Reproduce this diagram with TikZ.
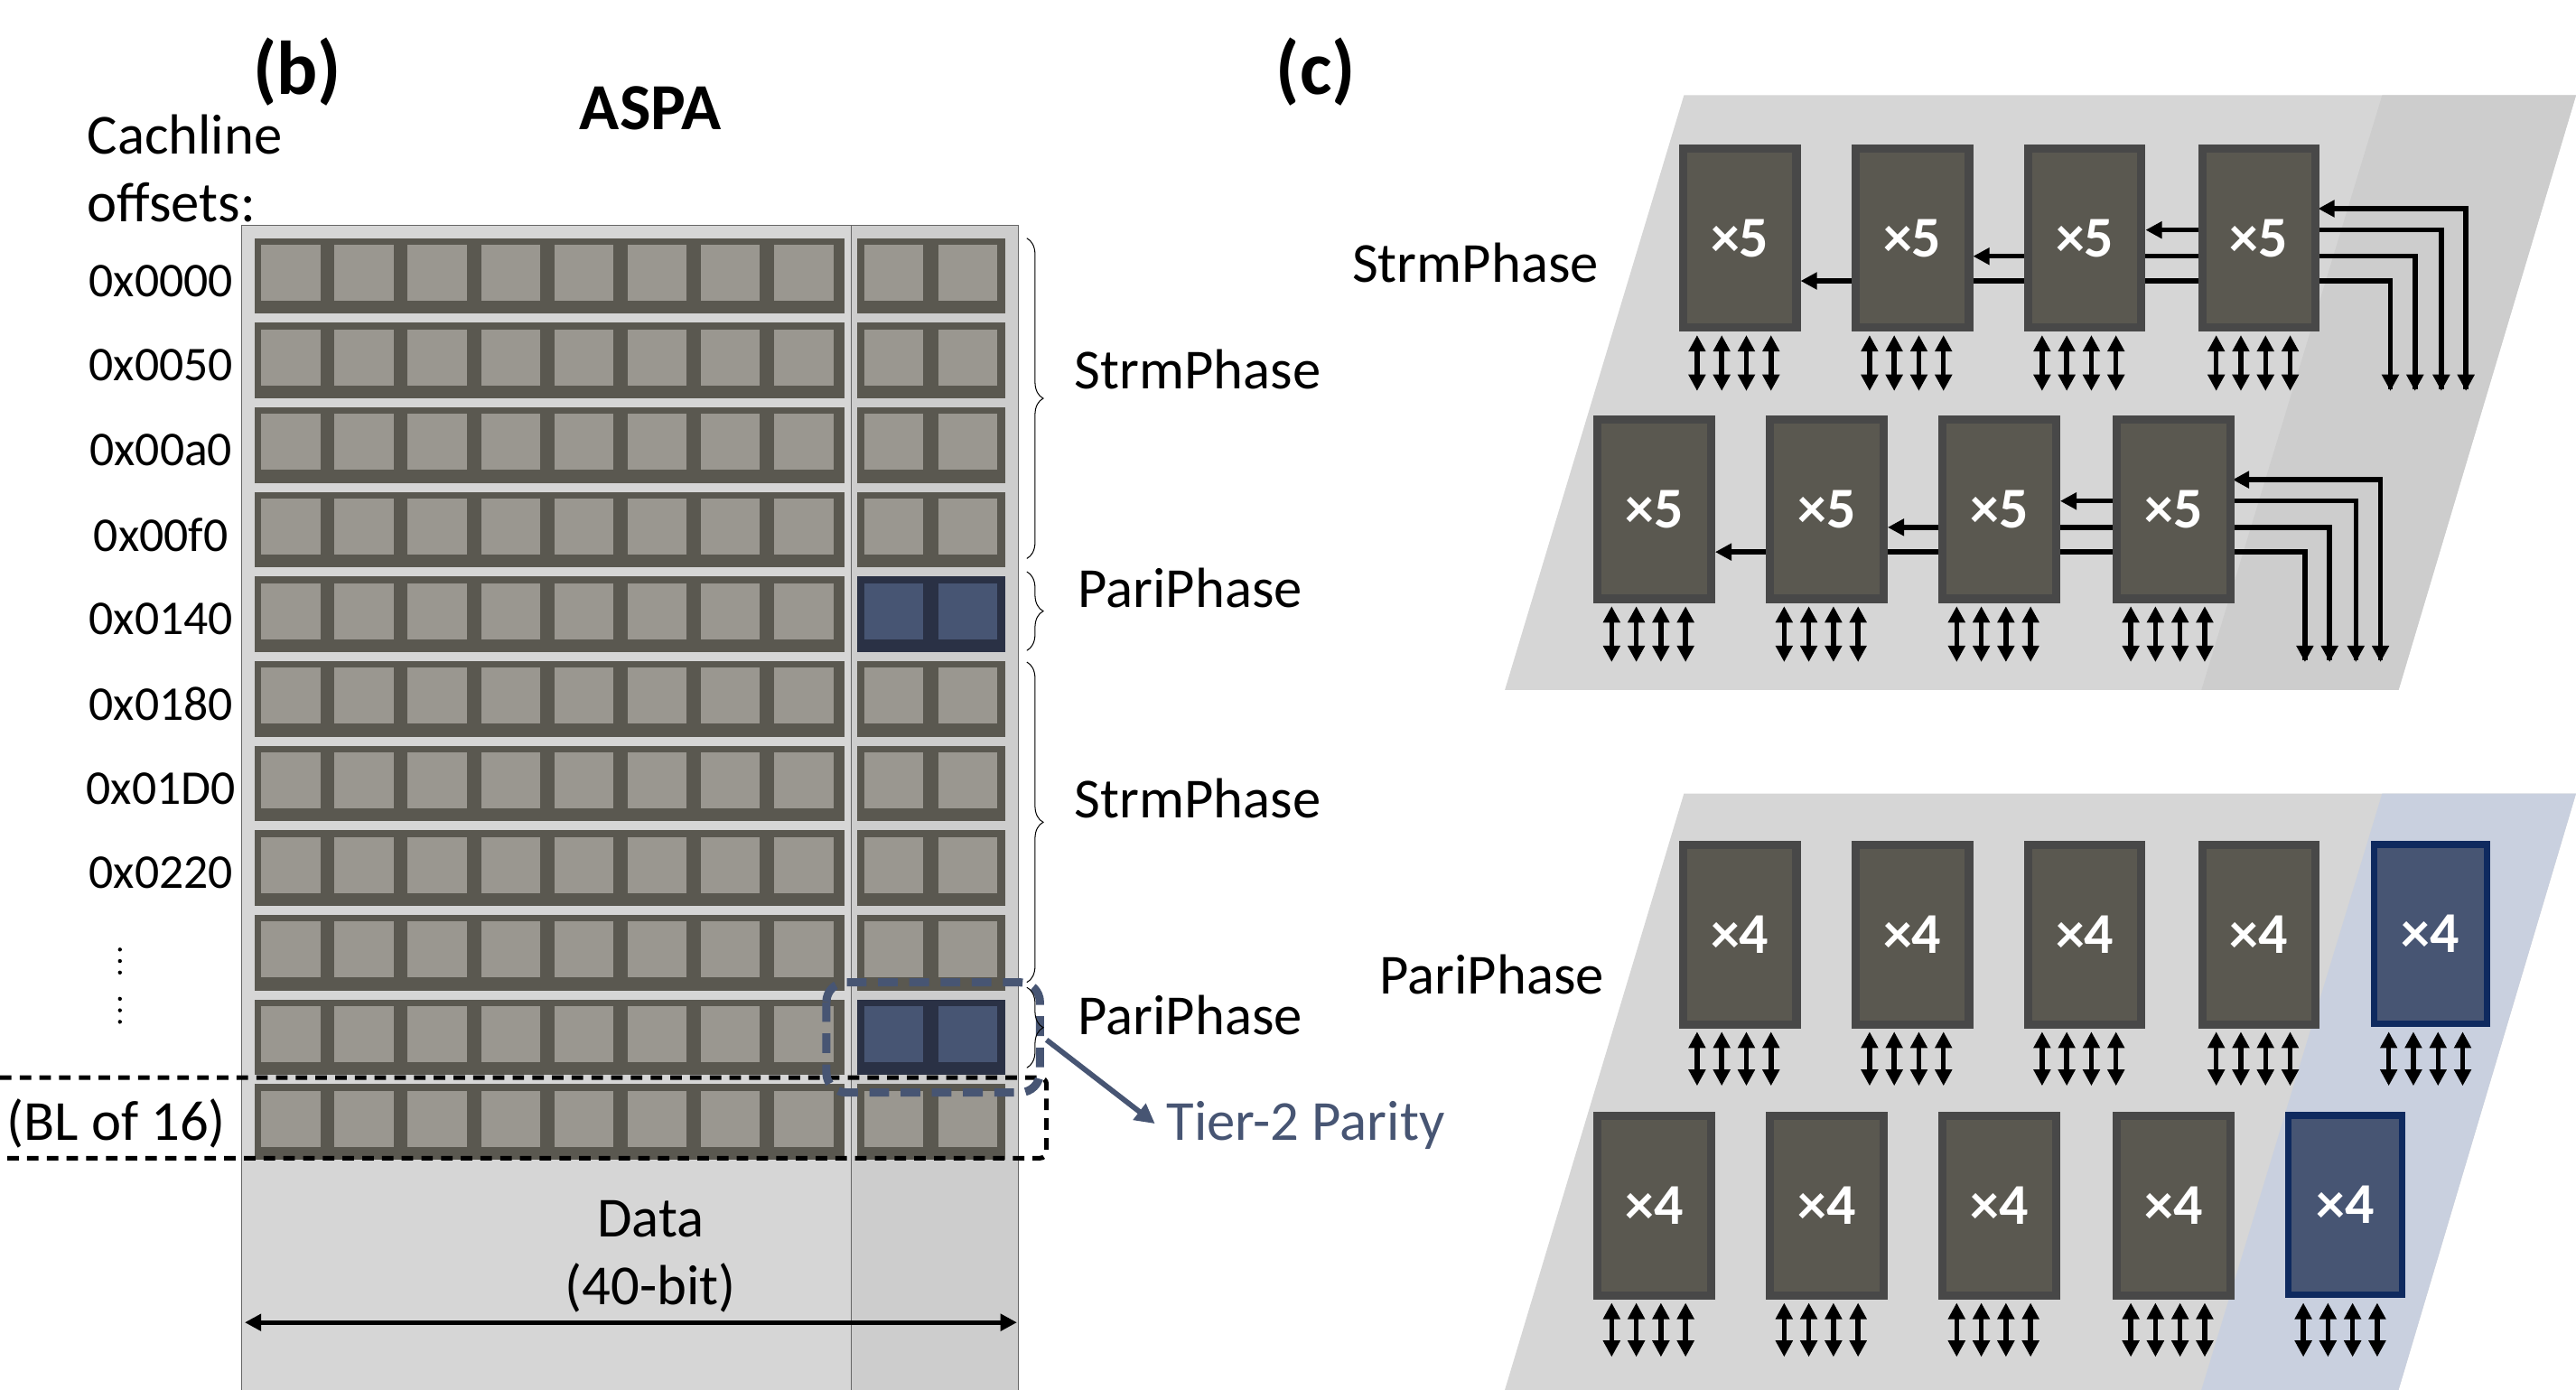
\documentclass[tikz,border=0pt]{standalone}
\usepackage{fontspec}
\setmainfont{Carlito}
\usetikzlibrary{arrows.meta,decorations.pathreplacing}
\definecolor{bgA}{HTML}{D6D6D6}
\definecolor{bgB}{HTML}{CDCDCD}
\definecolor{frm}{HTML}{5A5850}
\definecolor{cel}{HTML}{9A9790}
\definecolor{bfrm}{HTML}{2A3145}
\definecolor{bcel}{HTML}{475573}
\definecolor{chipo}{HTML}{484848}
\definecolor{navy}{HTML}{0F2A5F}
\definecolor{blt}{HTML}{C9D0DF}
\begin{document}
\begin{tikzpicture}[x=0.5mm,y=-0.5mm,
  lbl/.style={font=\fontsize{49}{54}\selectfont,inner sep=0},
  offl/.style={font=\fontsize{42}{46}\selectfont,inner sep=0},
  ttl/.style={font=\fontsize{57}{62}\selectfont\bfseries,inner sep=0},
  chip/.style={draw=chipo,line width=2.5mm,fill=frm,inner sep=0,anchor=north west,minimum width=34.5mm,minimum height=54.5mm,
     font=\fontsize{50}{54}\selectfont\bfseries,text=white},
  bchip/.style={chip,draw=navy,line width=2mm,fill=bcel},
  tip/.style={-{Triangle[length=5mm,width=5mm]}},
  dtip/.style={{Triangle[length=5mm,width=5mm]}-{Triangle[length=5mm,width=5mm]}},
  wire/.style={line width=1.5mm},
  brc/.style={decorate,decoration={brace,amplitude=5mm},line width=0.8pt}]
\useasboundingbox (0,0) rectangle (1568,846);
% ---------- left panel
\fill[bgA] (147,137) rectangle (518,846);
\fill[bgB] (518,137) rectangle (620,846);
\draw[line width=0.4pt,black!60] (147,137) rectangle (620,860) (518,137) -- (518,846);
\foreach \i in {0,...,10}{
  \pgfmathsetmacro{\t}{145+51.5*\i}
  \ifnum\i=4 \def\pf{bfrm}\def\pc{bcel}\else\ifnum\i=9 \def\pf{bfrm}\def\pc{bcel}\else\def\pf{frm}\def\pc{cel}\fi\fi
  \fill[frm] (155,\t) rectangle (514,\t+46);
  \foreach \k in {0,...,7}{\fill[cel] (159+44.6*\k,\t+4) rectangle (195+44.6*\k,\t+38);}
  \fill[\pf] (522,\t) rectangle (612,\t+46);
  \foreach \k in {0,1}{\fill[\pc] (526+45*\k,\t+4) rectangle (562+45*\k,\t+38);}
}
\node[font=\fontsize{66}{70}\selectfont\bfseries,inner sep=0] (b) at (181,44) {(b)};
\node[ttl] (aspa) at (396,66) {ASPA};
\node[lbl,anchor=west] (cl1) at (53,82) {Cachline};
\node[lbl,anchor=west] (cl2) at (53,123) {offsets:};
\foreach \s [count=\j from 0] in {0x0000,0x0050,0x00a0,0x00f0,0x0140,0x0180,0x01D0,0x0220}{
  \node[offl] (off\j) at (98,171+51.5*\j) {\s};}
\foreach \yy in {578,608}{\foreach \d in {0,7,14}{\fill (73,\yy+\d) circle (1.2);}}
\draw[dash pattern=on 3.5mm off 2.5mm,line width=1.4mm,rounded corners=2mm]
   (0,656) -- (637,656) -- (637,705) -- (0,705);
\node[lbl,anchor=west] (bl) at (4,684) {(BL of 16)};
\draw[bcel,dash pattern=on 6mm off 3.5mm,line width=2.5mm,rounded corners=6mm]
   (503,598) rectangle (633,665);
\coordinate (tA) at (637,633);
\draw[bcel,line width=1.6mm,-{Triangle[length=6mm,width=6mm]}] (tA) -- (703,684);
\node[lbl,anchor=west,text=bcel] (tier) at (710,685) {Tier-2 Parity};
\draw[brc] (625,145) -- (625,340);
\draw[brc] (625,348) -- (625,396);
\draw[brc] (625,403) -- (625,598);
\draw[brc] (625,601) -- (625,650);
\node[lbl,anchor=west] (s1) at (654,225) {StrmPhase};
\node[lbl,anchor=west] (p1) at (656,358) {PariPhase};
\node[lbl,anchor=west] (s2) at (654,486) {StrmPhase};
\node[lbl,anchor=west] (p2) at (656,618) {PariPhase};
\node[lbl] (data) at (396,742) {Data};
\node[lbl] (bits) at (396,784) {(40-bit)};
\coordinate (dl) at (149,805); \coordinate (dr) at (619,805);
\draw[line width=1.4mm,dtip] (dl) -- (dr);
\node[font=\fontsize{66}{70}\selectfont\bfseries,inner sep=0] (c) at (801,44) {(c)};
% ---------- right top panel
\fill[bgA] (1025,58) -- (1568,58) -- (1460,420) -- (916,420) -- cycle;
\fill[bgB] (1450,58) -- (1568,58) -- (1460,420) -- (1340,420) -- cycle;
\node[lbl] (st) at (898,160) {StrmPhase};
\foreach \r/\dx/\dy in {0/0/0,1/-52/165}{
  \foreach \yy/\bx/\ex in {127/1501/1410,140/1486/1305,156/1470/1200,171/1455/1095}{
    \draw[wire,tip] (\bx+\dx,237+\dy) -- (\bx+\dx,\yy+\dy) -- (\ex+\dx+1,\yy+\dy);}
  \foreach \bx/\yy in {1501/127,1486/140,1470/156,1455/171}{
    \draw[wire,tip] (\bx+\dx,\yy+\dy) -- (\bx+\dx,238+\dy);}
  \foreach \x [count=\n] in {1021,1126,1231,1337}{
    \node[chip] (t\r\n) at (\x+\dx+1,87+\dy+1) {×5};
    \foreach \o in {12,27,42,57}{\draw[wire,dtip] (\x+\dx+\o,204+\dy) -- (\x+\dx+\o,238+\dy);}
  }
}
% ---------- right bottom panel
\fill[bgA] (1025,483) -- (1568,483) -- (1460,846) -- (916,846) -- cycle;
\fill[blt] (1450,483) -- (1568,483) -- (1460,846) -- (1340,846) -- cycle;
\node[lbl] (pp) at (908,593) {PariPhase};
\foreach \r/\dx/\dy in {0/0/0,1/-52/165}{
  \foreach \x [count=\n] in {1021,1126,1231,1337,1442}{
    \ifnum\n=5 \node[bchip] (u\r\n) at (\x+\dx+1,511+\dy+1) {×4};
    \else \node[chip] (u\r\n) at (\x+\dx+1,511+\dy+1) {×4};\fi
    \foreach \o in {12,27,42,57}{\draw[wire,dtip] (\x+\dx+\o,628+\dy) -- (\x+\dx+\o,661+\dy);}
  }
}
\end{tikzpicture}
\end{document}
